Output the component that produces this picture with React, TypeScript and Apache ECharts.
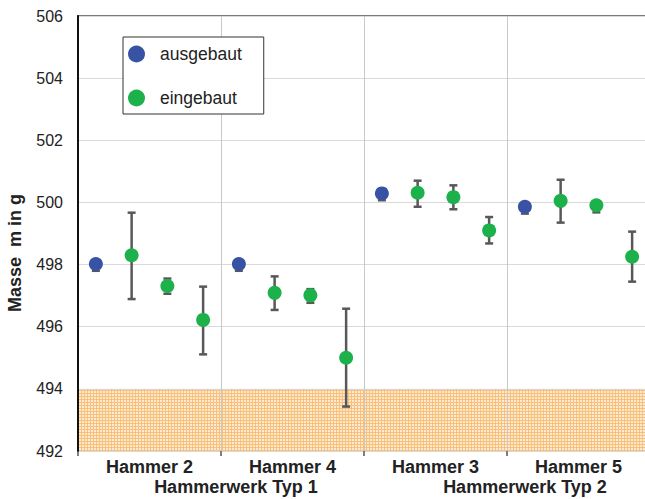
import React, { useEffect, useRef } from "react";
import * as echarts from "echarts";

// Slots along the x axis: four measurements per hammer
const slots: string[] = Array.from({ length: 16 }, (_, i) => `s${i}`);
const hammerLabels: string[] = ["Hammer 2", "Hammer 4", "Hammer 3", "Hammer 5"];
const yTicks = { min: 492, max: 506, interval: 2 };

// Removed hammers: [slot, mean, low, high]
const ausgebaut: number[][] = [
  [0, 498.02, 497.8, 498.02],
  [4, 498.02, 497.8, 498.02],
  [8, 500.29, 500.07, 500.29],
  [12, 499.86, 499.64, 499.86],
];

// Installed hammers: [slot, mean, low, high]
const eingebaut: number[][] = [
  [1, 498.3, 496.89, 499.67],
  [2, 497.31, 497.06, 497.55],
  [3, 496.22, 495.11, 497.29],
  [5, 497.09, 496.54, 497.62],
  [6, 497.01, 496.77, 497.21],
  [7, 495.0, 493.43, 496.58],
  [9, 500.31, 499.86, 500.7],
  [10, 500.17, 499.78, 500.55],
  [11, 499.1, 498.68, 499.53],
  [13, 500.05, 499.35, 500.73],
  [14, 499.91, 499.68, 499.91],
  [15, 498.25, 497.45, 499.06],
];

const toleranceBand = [492, 494];

const BLUE = "#3953A4";
const GREEN = "#1DB14B";
const FONT = "Liberation Sans, Arial, sans-serif";

function makeHatch(): HTMLCanvasElement {
  const c = document.createElement("canvas");
  c.width = 3;
  c.height = 3;
  const ctx = c.getContext("2d")!;
  ctx.fillStyle = "#FEEAD0";
  ctx.fillRect(0, 0, 3, 3);
  ctx.fillStyle = "#F9C07C";
  ctx.fillRect(0, 0, 3, 1);
  ctx.fillRect(0, 0, 1, 3);
  return c;
}

const errorBars = (name: string, rows: number[][]) => ({
  type: "custom",
  name: name + "-err",
  xAxisIndex: 0,
  yAxisIndex: 0,
  z: 3,
  silent: true,
  data: rows.map((r) => [r[0], r[2], r[3]]),
  encode: { x: 0, y: [1, 2] },
  renderItem: (params: any, api: any) => {
    const x = api.value(0);
    const lo = api.coord([x, api.value(1)]);
    const hi = api.coord([x, api.value(2)]);
    const hw = 4;
    const style = { stroke: "#585858", lineWidth: 2.5 };
    return {
      type: "group",
      children: [
        { type: "line", shape: { x1: lo[0], y1: lo[1], x2: hi[0], y2: hi[1] }, style },
        { type: "line", shape: { x1: lo[0] - hw, y1: lo[1], x2: lo[0] + hw, y2: lo[1] }, style },
        { type: "line", shape: { x1: hi[0] - hw, y1: hi[1], x2: hi[0] + hw, y2: hi[1] }, style },
      ],
    };
  },
});

const boldText = (text: string, x: number, y: number, rotation = 0) => ({
  type: "text",
  x,
  y,
  rotation,
  style: {
    text,
    fontSize: 18,
    fontWeight: "bold",
    fill: "#222",
    fontFamily: FONT,
    align: "center",
    verticalAlign: "middle",
  },
});

export default function App() {
  const ref = useRef<HTMLDivElement>(null);

  useEffect(() => {
    if (!ref.current) return;
    const chart = echarts.init(ref.current, null, { renderer: "svg" });
    chart.setOption({
      animation: false,
      backgroundColor: "#fff",
      textStyle: { fontFamily: FONT },
      grid: {
        left: 78,
        right: 0,
        top: 16,
        bottom: 48,
        show: true,
        borderColor: "#7a7a7a",
        borderWidth: 2,
        backgroundColor: "transparent",
      },
      legend: {
        orient: "vertical",
        left: 123,
        top: 37,
        data: ["ausgebaut", "eingebaut"],
        itemWidth: 17,
        itemHeight: 17,
        itemGap: 26,
        padding: [8, 22, 7, 5],
        borderColor: "#333",
        borderWidth: 1,
        backgroundColor: "#fff",
        icon: "circle",
        textStyle: { fontSize: 17.5, color: "#222", fontFamily: FONT, padding: [0, 0, 0, 10] },
      },
      xAxis: [
        {
          type: "category",
          data: slots,
          position: "bottom",
          axisLine: { show: true, lineStyle: { color: "#111", width: 2 } },
          axisTick: { show: false },
          axisLabel: { show: false },
          splitLine: { show: false },
        },
        {
          type: "category",
          data: hammerLabels,
          position: "bottom",
          z: 3,
          axisLine: { show: false },
          axisTick: { show: true, length: 5, lineStyle: { color: "#555", width: 1.5 } },
          axisLabel: {
            margin: 7,
            fontSize: 18,
            fontWeight: "bold",
            color: "#222",
            fontFamily: FONT,
          },
          splitLine: { show: true, lineStyle: { color: "#C8C8C8", width: 1 } },
        },
      ],
      yAxis: {
        type: "value",
        min: yTicks.min,
        max: yTicks.max,
        interval: yTicks.interval,
        z: 3,
        axisLine: { show: true, lineStyle: { color: "#111", width: 2 } },
        axisTick: { show: false },
        axisLabel: { margin: 15, fontSize: 16, color: "#222", fontFamily: FONT },
        splitLine: { show: true, lineStyle: { color: "#D9D9D9", width: 1 } },
      },
      graphic: [
        boldText("Masse  m in g", 15, 253, Math.PI / 2),
        boldText("Hammerwerk Typ 1", 236, 487),
        boldText("Hammerwerk Typ 2", 525, 487),
      ],
      series: [
        errorBars("ausgebaut", ausgebaut),
        errorBars("eingebaut", eingebaut),
        {
          type: "scatter",
          name: "ausgebaut",
          xAxisIndex: 0,
          z: 4,
          symbolSize: 14,
          itemStyle: { color: BLUE, opacity: 1 },
          data: ausgebaut.map((r) => [r[0], r[1]]),
          markArea: {
            silent: true,
            itemStyle: { color: { image: makeHatch(), repeat: "repeat" } as any },
            data: [[{ yAxis: toleranceBand[0] }, { yAxis: toleranceBand[1] }]],
          },
        },
        {
          type: "scatter",
          name: "eingebaut",
          xAxisIndex: 0,
          z: 4,
          symbolSize: 14,
          itemStyle: { color: GREEN, opacity: 1 },
          data: eingebaut.map((r) => [r[0], r[1]]),
        },
      ],
    });
    return () => chart.dispose();
  }, []);

  return (
    <div
      ref={ref}
      style={{ position: "fixed", left: 0, top: 0, width: 650, height: 499 }}
    />
  );
}
